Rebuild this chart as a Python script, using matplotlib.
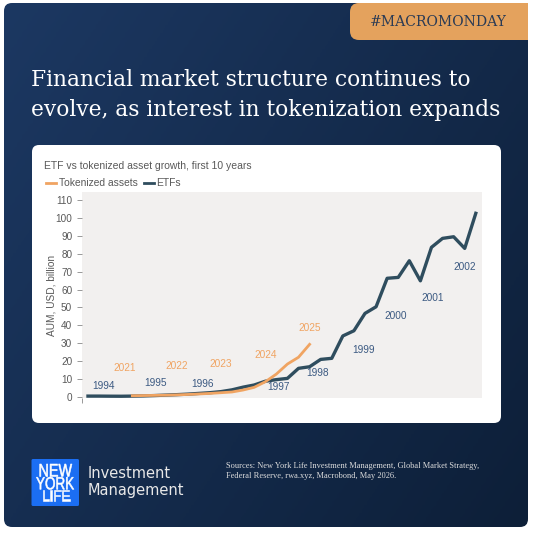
import numpy as np
import matplotlib
matplotlib.use("Agg")
import matplotlib.pyplot as plt
from matplotlib.patches import FancyBboxPatch, Rectangle, PathPatch
from matplotlib.lines import Line2D
from matplotlib.textpath import TextPath
from matplotlib.font_manager import FontProperties
from matplotlib.path import Path

# quarterly points, first 10 years
etf_aum = [0.5, 0.5, 0.45, 0.42, 0.5, 0.6, 0.8, 1.05, 1.3, 1.6, 2.0, 2.4,
           3.0, 4.0, 5.5, 6.7, 8.8, 9.7, 10.4, 16.0, 16.9, 21.0, 21.6, 34.1,
           37.0, 46.7, 50.4, 66.3, 66.8, 76.1, 64.9, 83.6, 88.6, 89.5, 83.0, 102.6]
tok_start = 4
tok_aum = [0.7, 0.8, 0.9, 1.0, 1.2, 1.4, 1.7, 2.0, 2.4, 2.8, 3.9, 5.4,
           8.5, 12.8, 18.4, 22.2, 29.4]

etf_years = ["1994", "1995", "1996", "1997", "1998", "1999", "2000", "2001", "2002"]
etf_lab_x = [1.4, 6.05, 10.3, 17.2, 20.7, 24.9, 27.8, 31.1, 34.0]
etf_lab_y = [6.3, 7.6, 7.4, 5.4, 13.2, 26.1, 45.2, 55.1, 72.8]
tok_years = ["2021", "2022", "2023", "2024", "2025"]
tok_lab_x = [3.3, 8.0, 12.0, 16.0, 20.0]
tok_lab_y = [16.0, 17.5, 18.4, 23.4, 38.7]

ORANGE = "#f0a462"
ETF_COL = "#2f4d5e"
ETF_TXT = "#3c5a82"
GREY = "#595959"

W = 533
fig = plt.figure(figsize=(5.33, 5.33), dpi=100)
fig.patch.set_facecolor("white")

# background layer in pixel coordinates
bg = fig.add_axes([0, 0, 1, 1])
bg.set_xlim(0, W)
bg.set_ylim(W, 0)
bg.axis("off")

panel = FancyBboxPatch((4, 3), 524, 524, boxstyle="round,pad=0,rounding_size=8",
                       fc="none", ec="none")
bg.add_patch(panel)
gx, gy = np.meshgrid(np.linspace(0, 1, 200), np.linspace(0, 1, 200))
grad = (gx * 0.6 + gy * 0.4)
img = bg.imshow(grad, extent=(4, 528, 527, 3), cmap=matplotlib.colors.LinearSegmentedColormap.from_list(
    "navy", ["#1c3862", "#0d1f38"]), aspect="auto", zorder=1)
img.set_clip_path(panel)

# orange tab
tab = FancyBboxPatch((350, 3), 178, 37, boxstyle="round,pad=0,rounding_size=9",
                     fc="#e4a25d", ec="none", zorder=2)
bg.add_patch(tab)
bg.add_patch(Rectangle((360, 3), 168, 20, fc="#e4a25d", ec="none", zorder=2))
bg.add_patch(Rectangle((505, 3), 23, 37, fc="#e4a25d", ec="none", zorder=2))
bg.text(438.7, 22, "#MACROMONDAY", color="#2a3b55", fontsize=10.1,
        family="DejaVu Serif", ha="center", va="center", zorder=3)

bg.text(31, 80, "Financial market structure continues to", color="white",
        fontsize=15.7, family="DejaVu Serif", ha="left", va="center", zorder=3)
bg.text(31, 110, "evolve, as interest in tokenization expands", color="white",
        fontsize=15.7, family="DejaVu Serif", ha="left", va="center", zorder=3)

# white card
card = FancyBboxPatch((32, 145), 469, 278, boxstyle="round,pad=0,rounding_size=7",
                      fc="white", ec="none", zorder=2)
bg.add_patch(card)
bg.text(44, 166, "ETF vs tokenized asset growth, first 10 years", color=GREY,
        fontsize=7.5, family="Liberation Sans", ha="left", va="center", zorder=3)
bg.add_line(Line2D([46, 56], [183, 183], color=ORANGE, lw=2, zorder=3))
bg.text(59, 183, "Tokenized assets", color=GREY, fontsize=7.4,
        family="Liberation Sans", ha="left", va="center", zorder=3)
bg.add_line(Line2D([144, 154], [183, 183], color=ETF_COL, lw=2, zorder=3))
bg.text(156.5, 183, "ETFs", color=GREY, fontsize=7.4,
        family="Liberation Sans", ha="left", va="center", zorder=3)

# logo
bg.add_patch(FancyBboxPatch((31.5, 459), 47.5, 47, boxstyle="round,pad=0,rounding_size=1.5",
                            fc="#1b6ef3", ec="none", zorder=2))
logo_font = FontProperties(family="Liberation Sans")
for t, x0, x1, ytop, ybot in [("NEW", 38.5, 72, 464, 476.5),
                              ("YORK", 36, 74, 477, 489.5),
                              ("LIFE", 41.5, 69.5, 490, 500.5)]:
    tp = TextPath((0, 0), t, size=10, prop=logo_font)
    v = tp.vertices
    vx0, vx1 = v[:, 0].min(), v[:, 0].max()
    vy0, vy1 = v[:, 1].min(), v[:, 1].max()
    nv = np.column_stack([x0 + (v[:, 0] - vx0) / (vx1 - vx0) * (x1 - x0),
                          ybot - (v[:, 1] - vy0) / (vy1 - vy0) * (ybot - ytop)])
    bg.add_patch(PathPatch(Path(nv, tp.codes), fc="white", ec="white", lw=0.4, zorder=3))
bg.text(88, 474, "Investment", color="#e8e8e8", fontsize=10.5,
        family="DejaVu Sans", ha="left", va="center", zorder=3)
bg.text(88, 491, "Management", color="#e8e8e8", fontsize=10.5,
        family="DejaVu Sans", ha="left", va="center", zorder=3)
bg.text(225.5, 465.7, "Sources: New York Life Investment Management, Global Market Strategy,",
        color="#dddddd", fontsize=6.0, family="Liberation Serif", ha="left", va="center", zorder=3)
bg.text(225.5, 475.7, "Federal Reserve, rwa.xyz, Macrobond, May 2026.",
        color="#dddddd", fontsize=6.0, family="Liberation Serif", ha="left", va="center", zorder=3)

# chart
ax = fig.add_axes([82 / W, 1 - 398 / W, 400 / W, 206 / W])
ax.set_facecolor("#f2f0ef")
ax.plot(range(len(etf_aum)), etf_aum, color=ETF_COL, lw=2.4, zorder=3)
ax.plot(range(tok_start, tok_start + len(tok_aum)), tok_aum, color=ORANGE, lw=2.0, zorder=4)
for t, x, y in zip(etf_years, etf_lab_x, etf_lab_y):
    ax.text(x, y, t, color=ETF_TXT, fontsize=7.3, family="Liberation Sans",
            ha="center", va="center")
for t, x, y in zip(tok_years, tok_lab_x, tok_lab_y):
    ax.text(x, y, t, color=ORANGE, fontsize=7.3, family="Liberation Sans",
            ha="center", va="center")
ax.set_xlim(-0.54, 35.56)
ax.set_ylim(-0.56, 114.5)
ax.set_yticks(np.arange(0, 111, 10))
ax.set_xticks([-0.54])
ax.set_xticklabels([])
ax.tick_params(axis="both", colors="#888888", length=3.5, width=0.6, labelcolor=GREY,
               labelsize=7.2)
for lab in ax.get_yticklabels():
    lab.set_family("Liberation Sans")
for s in ax.spines.values():
    s.set_visible(False)
ax.set_ylabel("AUM, USD, billion", color=GREY, fontsize=7.3, family="Liberation Sans",
              labelpad=-1)

fig.savefig("out.png", dpi=100)
